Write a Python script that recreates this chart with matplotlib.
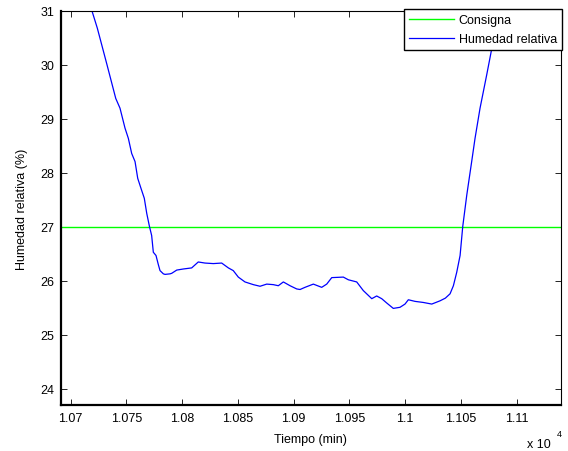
#humedad relativa frente a consigna

import numpy as np
import matplotlib.pyplot as plt

plt.rcParams['font.family'] = ['Liberation Sans', 'DejaVu Sans']

# datos (tiempo en min, humedad en %)
tiempo = np.array([
  10719.1, 10723.9, 10732.6, 10740.4, 10744.2, 10748.7, 10751.7, 10754.7,
  10757.7, 10760.1, 10763.1, 10766.0, 10768.2, 10770.5, 10772.6, 10774.1,
  10776.5, 10778.6, 10780.1, 10783.1, 10784.6, 10789.1, 10790.6, 10795.1,
  10801.0, 10808.5, 10814.4, 10820.4, 10827.9, 10835.4, 10841.4, 10845.8,
  10850.3, 10856.3, 10863.8, 10869.8, 10875.8, 10881.7, 10886.2, 10890.7,
  10896.7, 10902.7, 10905.7, 10910.1, 10917.6, 10925.1, 10929.6, 10934.1,
  10944.5, 10949.0, 10956.5, 10962.4, 10970.0, 10974.4, 10978.9, 10983.4,
  10989.3, 10995.3, 10999.8, 11002.8, 11008.8, 11016.2, 11023.8, 11031.2,
  11036.0, 11040.2, 11043.2, 11046.2, 11049.2, 11051.6, 11055.2, 11059.6,
  11062.6, 11067.1, 11070.1, 11073.1, 11076.0, 11084.5])
humedad = np.array([
  31.00, 30.68, 30.00, 29.38, 29.20, 28.83, 28.64, 28.36,
  28.21, 27.90, 27.71, 27.53, 27.25, 27.02, 26.84, 26.53,
  26.47, 26.30, 26.19, 26.13, 26.12, 26.13, 26.14, 26.20,
  26.22, 26.24, 26.35, 26.33, 26.32, 26.33, 26.24, 26.19,
  26.07, 25.98, 25.93, 25.90, 25.94, 25.93, 25.91, 25.98,
  25.91, 25.85, 25.84, 25.88, 25.94, 25.88, 25.94, 26.06,
  26.07, 26.02, 25.98, 25.82, 25.67, 25.72, 25.67, 25.59,
  25.49, 25.51, 25.57, 25.65, 25.62, 25.60, 25.57, 25.63,
  25.68, 25.76, 25.91, 26.16, 26.47, 27.01, 27.59, 28.21,
  28.64, 29.20, 29.51, 29.82, 30.13, 31.05])
consigna = 27
xlims = [10691.3, 11139.7]
ylims = [23.7, 31.0]
xticks = [10700, 10750, 10800, 10850, 10900, 10950, 11000, 11050, 11100]
xticklabels = ['1.07', '1.075', '1.08', '1.085', '1.09', '1.095', '1.1', '1.105', '1.11']
yticks = [24, 25, 26, 27, 28, 29, 30, 31]

fig = plt.figure(figsize=(5.68, 4.52), dpi=100)
ax = fig.add_axes([61/568, 46/452, 500/568, 394/452])

ax.plot(xlims, [consigna, consigna], color='#00ff00', lw=1.0, label='Consigna')
ax.plot(tiempo, humedad, color='blue', lw=0.9, label='Humedad relativa')

ax.set_xlim(xlims)
ax.set_ylim(ylims)
ax.set_xticks(xticks)
ax.set_xticklabels(xticklabels)
ax.set_yticks(yticks)
ax.tick_params(direction='in', length=4, width=0.6, labelsize=9, top=True, right=True, pad=5)
for s in ['left', 'bottom']:
  ax.spines[s].set_linewidth(1.6)
for s in ['top', 'right']:
  ax.spines[s].set_linewidth(0.8)

fig.text(22/568, 1 - 209/452, 'Humedad relativa (%)', rotation=90, ha='center', va='center', fontsize=9)
fig.text(310/568, 1 - 440/452, 'Tiempo (min)', ha='center', va='center', fontsize=9)
fig.text(527/568, 1 - 439/452, 'x 10', ha='left', va='top', fontsize=9)
fig.text(557/568, 1 - 430/452, '4', ha='left', va='top', fontsize=6.5)

leg = ax.legend(loc='upper right', bbox_to_anchor=(562/568, 1 - 10/452),
                bbox_transform=fig.transFigure, borderaxespad=0, fontsize=9,
                handlelength=3.6, handletextpad=0.4, labelspacing=0.55,
                fancybox=False, framealpha=1, edgecolor='black')
leg.get_frame().set_linewidth(1.0)

plt.savefig('out.png', dpi=100)
